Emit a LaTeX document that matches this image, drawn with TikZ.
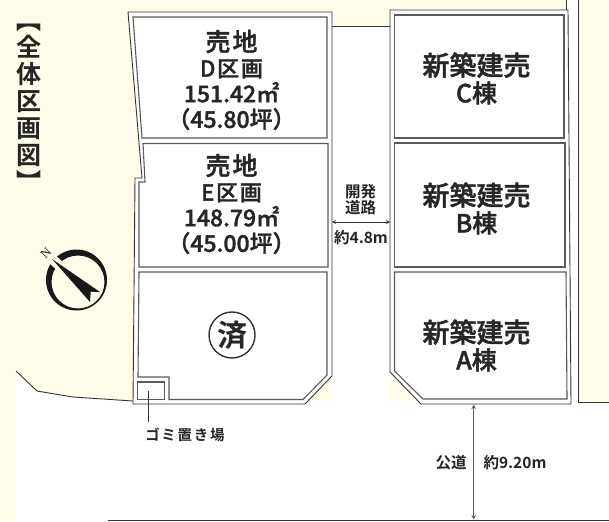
\documentclass[tikz,border=0pt]{standalone}
\usepackage{fontspec}
\newfontfamily\jpfont[FakeBold=1.5]{Noto Sans CJK JP Medium}
\newfontfamily\jpbold{Noto Sans CJK JP Bold}
\newfontfamily\jpvert[RawFeature=+vert]{Noto Sans CJK JP Bold}
\newfontfamily\jpwide[LetterSpace=8,FakeBold=1.5]{Noto Sans CJK JP Medium}
\newfontfamily\jpgomi[LetterSpace=12]{Noto Sans CJK JP Bold}
\newfontfamily\nfont{Liberation Serif}
\definecolor{creambg}{HTML}{FFFCE9}
\definecolor{inkline}{HTML}{333333}
\definecolor{lotgray}{HTML}{5A5A5A}
\definecolor{inktext}{HTML}{262626}
\newcommand{\bigline}[1]{{\jpwide\fontsize{25}{25.6}\selectfont #1}}
\newcommand{\midline}[1]{{\jpwide\fontsize{22}{25.6}\selectfont #1}}
\newcommand{\numline}[1]{{\jpfont\fontsize{23}{25.6}\selectfont #1}}
\begin{document}
\begin{tikzpicture}[x=1pt,y=-1pt,
	frameline/.style={draw=inkline,line width=0.9pt,fill=white},
	lotline/.style={draw=lotgray,line width=1.1pt,fill=white},
	thinline/.style={draw=inkline,line width=0.9pt},
	lottext/.style={font=\jpfont\fontsize{23}{25.6}\selectfont,align=center,inner sep=0pt,text=inktext},
	tatetext/.style={font=\jpfont\fontsize{25}{27}\selectfont,align=center,inner sep=0pt,text=inktext},
	smalltext/.style={font=\jpbold\fontsize{15.5}{16}\selectfont,align=center,inner sep=0pt,text=inktext}]
	\useasboundingbox (0,0) rectangle (609,521);
	\fill[creambg] (0,0) rectangle (609,521);

	% white ground
	\fill[white] (16,371) -- (37,391) -- (73,397) -- (133,401) -- (578,401) -- (578,402) -- (609,402) -- (609,521) -- (16,521) -- cycle;
	\fill[white] (332,26) rectangle (390,404);
	\fill[white] (566,0) rectangle (578,402);
	\draw[thinline] (16,371) -- (37,391) -- (73,397) -- (133,401);
	\draw[thinline] (332,26) -- (390,26);
	\draw[thinline] (566,0) -- (566,10);
	\draw[thinline] (578,0) -- (578,402) -- (609,402);
	\draw[thinline] (108,520) -- (609,520);

	% left block
	\draw[frameline] (128,12) -- (332,12) -- (332,376) -- (305,404) -- (133,404) -- (135,178) -- (142,178) -- cycle;
	\draw[lotline] (133,17) -- (327,17) -- (327,138) -- (142,138) -- cycle;
	\draw[lotline] (143,143.5) -- (328,143.5) -- (328,267) -- (139,267) -- (139,182) -- (145,182) -- cycle;
	\draw[lotline] (139,272) -- (327,272) -- (327,375) -- (303,399.5) -- (169,399.5) -- (169,377) -- (138,377) -- cycle;
	\draw[lotline] (137.5,382) rectangle (164.5,399.5);

	% right block
	\draw[frameline] (390,10) -- (568,10) -- (571,404) -- (421,404) -- (390,372) -- cycle;
	\draw[lotline] (394.5,15) rectangle (564,138);
	\draw[lotline] (394.5,143) rectangle (565,267);
	\draw[lotline] (394.5,272) -- (566,272) -- (567,399) -- (423,399) -- (394.5,371) -- cycle;

	% labels
	\node[font=\jpvert\fontsize{25}{27}\selectfont,align=center,inner sep=0pt,text=inktext] at (29,108) (title) {【\\全\\体\\区\\画\\図\\】};
	\node[lottext] at (231.5,80) (lotD) {\bigline{売地}\\\midline{D区画}\\\numline{151.42㎡}\\\numline{（45.80坪）}};
	\node[lottext] at (231.5,204) (lotE) {\bigline{売地}\\\midline{E区画}\\\numline{148.79㎡}\\\numline{（45.00坪）}};
	\node[tatetext] at (476.5,78.5) (lotC) {{\fontsize{27}{27}\selectfont 新築建売}\\C棟};
	\node[tatetext] at (476.5,208.5) (lotB) {{\fontsize{27}{27}\selectfont 新築建売}\\B棟};
	\node[tatetext] at (476.5,345.5) (lotA) {{\fontsize{27}{27}\selectfont 新築建売}\\A棟};
	\node[draw=inkline,line width=1.4pt,circle,minimum size=46pt,inner sep=0pt,text=inktext,font=\jpbold\fontsize{30}{30}\selectfont] at (232,335) (sold) {済};
	\node[smalltext] at (360.5,200) (roadname) {開発\\道路};
	\node[smalltext] at (361,238) (roadwidth) {約4.8m};
	\node[smalltext] at (451,463) (pubname) {公道};
	\node[smalltext] at (515,463) (pubwidth) {約9.20m};
	\node[smalltext,font=\jpgomi\fontsize{14.5}{14.5}\selectfont] at (185,435) (gomi) {ゴミ置き場};

	% connectors
	\coordinate (roadL) at (332,222);
	\coordinate (roadR) at (390,222);
	\coordinate (pubT) at (473.7,404.5);
	\coordinate (pubB) at (473.7,519.5);
	\coordinate (gomibox) at (148.5,391);
	\coordinate (gomitag) at (148.5,421.5);
	\draw[<->,>=stealth,inkline,line width=0.8pt] (roadL) -- (roadR);
	\draw[<->,>=stealth,lotgray,line width=1pt] (pubT) -- (pubB);
	\draw[inkline,line width=0.8pt] (gomibox) -- (gomitag);

	% compass
	\fill[black!90,even odd rule] (76.5,280) circle (30.5) (78,282) circle (26.5);
	\draw[creambg,line width=10pt] (46,253) -- (66,272);
	\fill[black!90] (52,259) -- (100,292) -- (90.7,291.7) -- (90,302) -- cycle;
	\node[font=\nfont\fontsize{13}{13}\selectfont,rotate=45,inner sep=0pt,text=inktext] at (46,253) (north) {N};
\end{tikzpicture}
\end{document}
